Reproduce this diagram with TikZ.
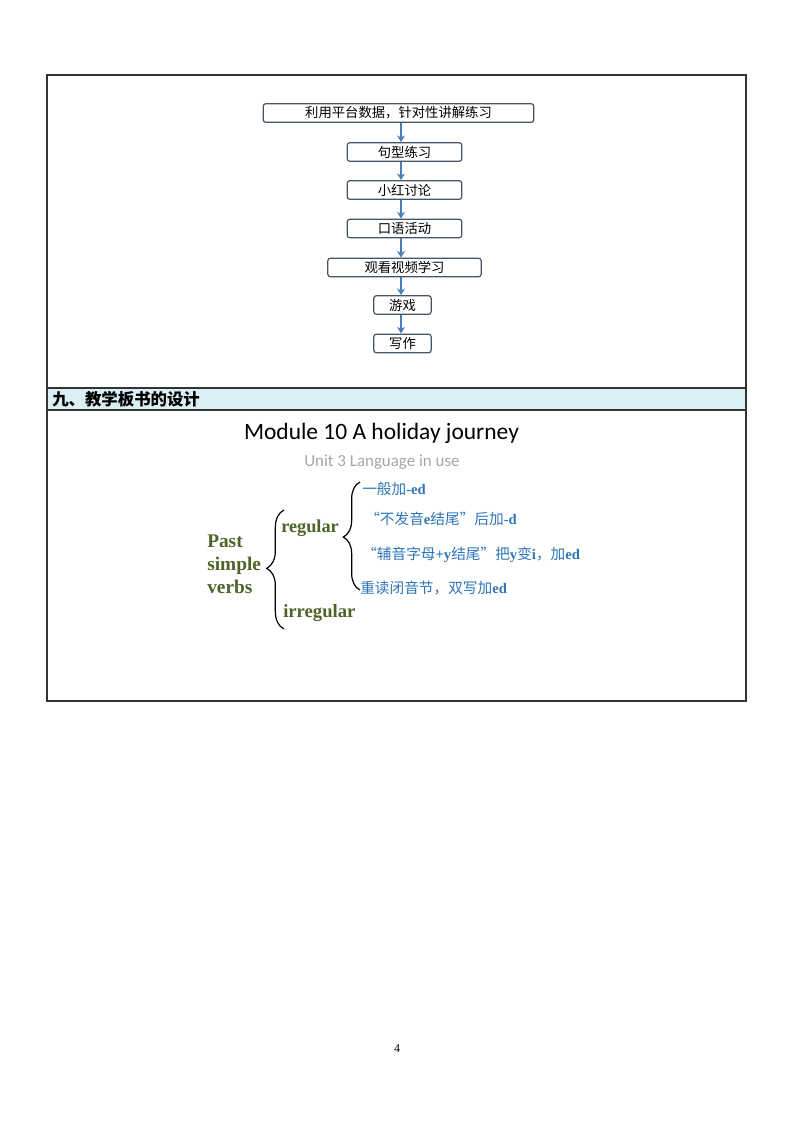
\documentclass[tikz,border=0pt]{standalone}
\usepackage{fontspec}
\setmainfont{Liberation Serif}
\newfontfamily\cjk{Noto Sans CJK SC}
\newfontfamily\titlefont{Carlito}
\usetikzlibrary{arrows.meta,decorations.pathreplacing}
\definecolor{hdrblue}{HTML}{DAEEF3}
\definecolor{flowblue}{HTML}{4A7EBB}
\definecolor{boxgray}{HTML}{4A5562}
\definecolor{verbgreen}{HTML}{4F6228}
\definecolor{ruleblue}{HTML}{2E75B6}
\definecolor{unitgray}{HTML}{A6A6A6}
\newcommand{\ltn}[1]{{\rmfamily\bfseries #1}}

\begin{document}
\begin{tikzpicture}[x=0.75pt,y=-0.75pt,
	flowbox/.style={draw=boxgray,line width=0.9pt,rounded corners=2pt,minimum height=14pt,inner sep=0pt,font=\cjk\fontsize{10}{11}\selectfont},
	flowarrow/.style={draw=flowblue,line width=1.5pt,-{Stealth[length=5pt,width=6pt]}},
	verb/.style={anchor=west,text=verbgreen,inner sep=0pt,font=\bfseries\fontsize{14.5}{17.25}\selectfont},
	rule/.style={anchor=west,text=ruleblue,inner sep=0pt,font=\cjk\fontsize{11}{12}\selectfont}]
	\useasboundingbox (0,0) rectangle (794,1123);
	\fill [hdrblue] (47,388) rectangle (746,410);
	\draw [line width=0.8pt,black!80] (47,75) rectangle (746,701) (47,388) -- (746,388) (47,410) -- (746,410);
	\node [anchor=west,inner sep=0pt,font=\cjk\bfseries\fontsize{12.3}{14}\selectfont] (hdr) at (52,399) {九、教学板书的设计};

	\node [flowbox,minimum width=203pt] (f1) at (398.5,113) {利用平台数据，针对性讲解练习};
	\node [flowbox,minimum width=86pt] (f2) at (404.5,152) {句型练习};
	\node [flowbox,minimum width=86pt] (f3) at (404.5,190) {小红讨论};
	\node [flowbox,minimum width=86pt] (f4) at (404.5,228.5) {口语活动};
	\node [flowbox,minimum width=115pt] (f5) at (404.5,267.5) {观看视频学习};
	\node [flowbox,minimum width=43pt] (f6) at (402.5,305) {游戏};
	\node [flowbox,minimum width=43pt] (f7) at (402.5,343.5) {写作};
	\coordinate (ax) at (401,0);
	\foreach \a/\b in {f1/f2,f2/f3,f3/f4,f4/f5,f5/f6,f6/f7}
		\draw [flowarrow] (\a.south -| ax) -- (\b.north -| ax);

	\node [font=\titlefont\fontsize{17.6}{19}\selectfont] (title) at (381.5,433) {Module 10 A holiday journey};
	\node [text=unitgray,font=\titlefont\fontsize{12.7}{14}\selectfont] (unit) at (382,462) {Unit 3 Language in use};
	\node [verb,align=left] (past) at (207,564) {Past\\simple\\verbs};
	\node [verb,font=\bfseries\fontsize{13.7}{15}\selectfont] (reg) at (281,528) {regular};
	\node [verb,font=\bfseries\fontsize{14}{15}\selectfont] (irr) at (283,613) {irregular};
	\draw [line width=0.9pt,decorate,decoration={brace,amplitude=13pt,aspect=0.51}] (284,629) -- (284,510);
	\draw [line width=0.9pt,decorate,decoration={brace,amplitude=12.5pt,aspect=0.49}] (360,590) -- (360,482);

	\node [rule] (r1) at (362,489) {一般加\ltn{-ed}};
	\node [rule] (r2) at (365,519) {“不发音\ltn{e}结尾”后加\ltn{-d}};
	\node [rule] (r3) at (362,555) {“辅音字母\ltn{+y}结尾”把\ltn{y}变\ltn{i}，加\ltn{ed}};
	\node [rule] (r4) at (360,588) {重读闭音节，双写加\ltn{ed}};

	\node [font=\fontsize{9}{10}\selectfont] (pg) at (397,1049) {4};
\end{tikzpicture}
\end{document}
